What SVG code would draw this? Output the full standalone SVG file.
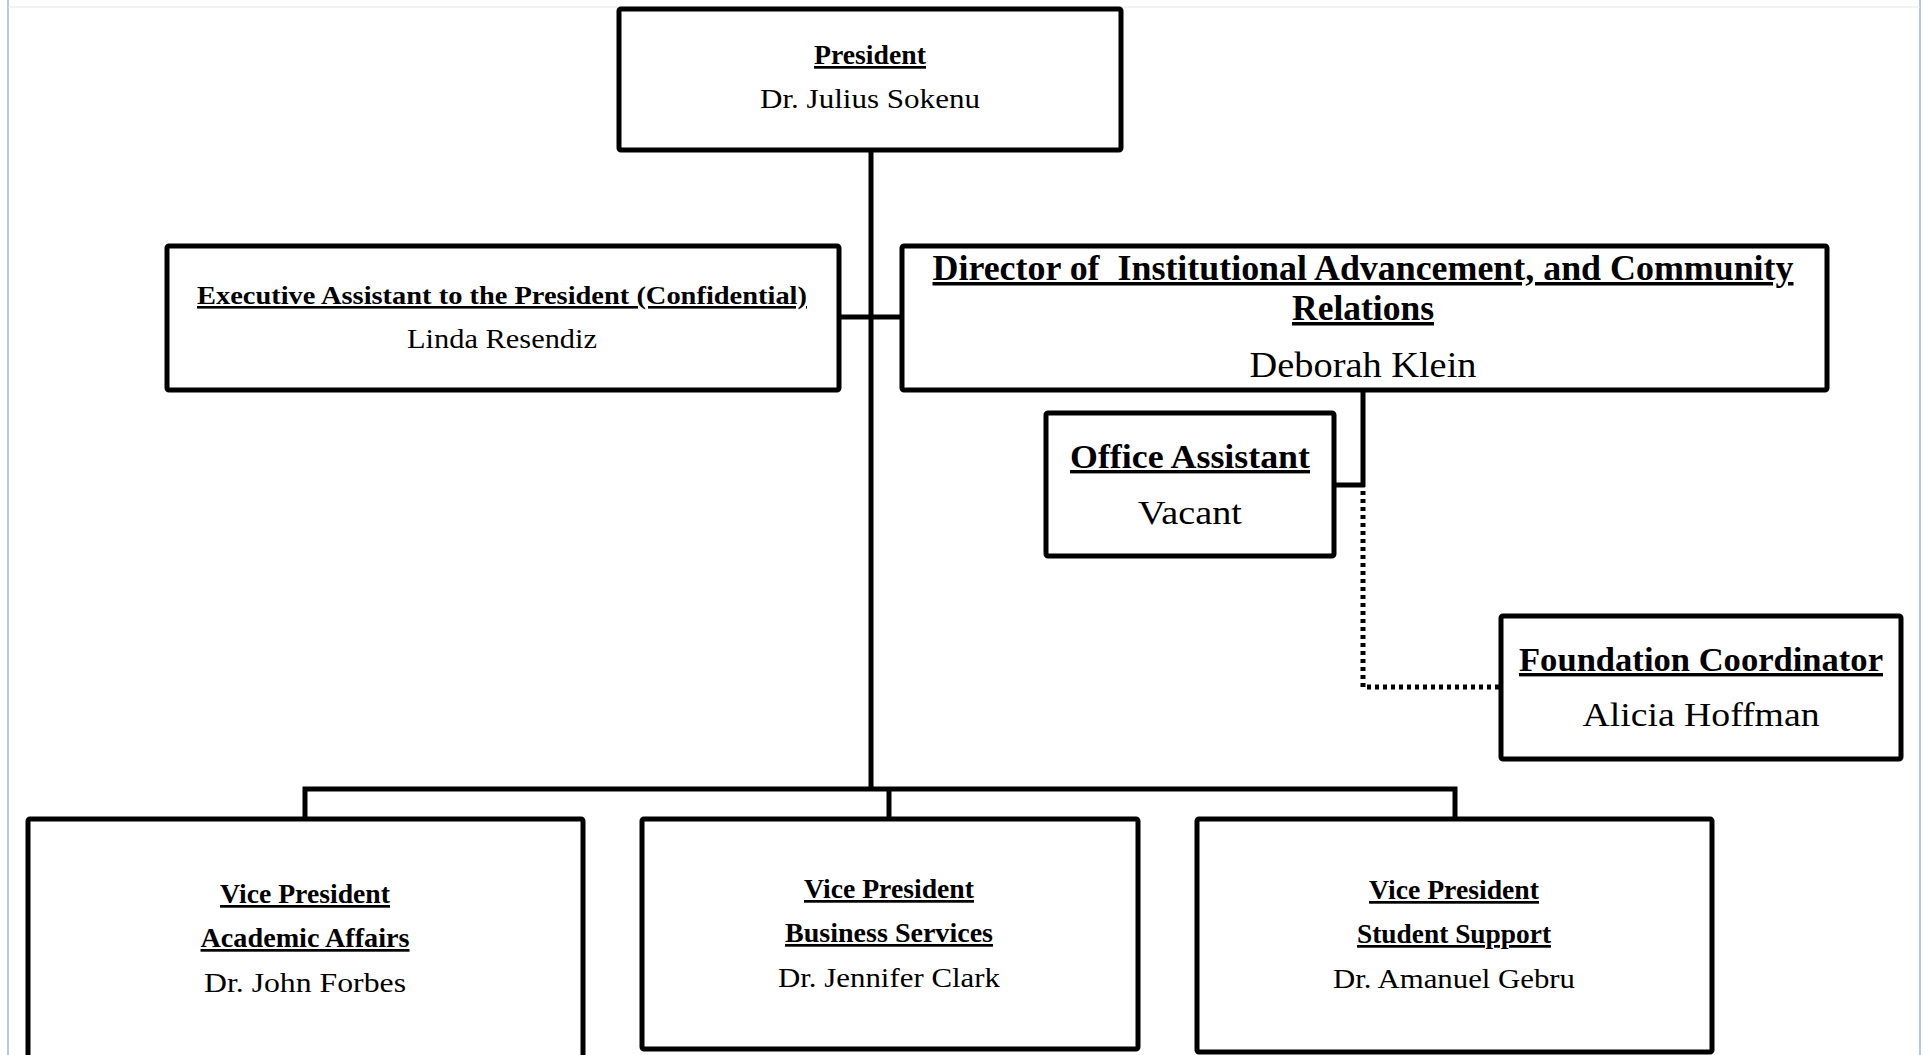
<svg xmlns="http://www.w3.org/2000/svg" width="1929" height="1055" viewBox="0 0 1929 1055">
<style>
.box{fill:#fff;stroke:#000;stroke-width:5;}
.ln{fill:none;stroke:#000;stroke-width:5;}
.dot{fill:none;stroke:#000;stroke-width:5;stroke-dasharray:4 4;}
.t{font-family:"Liberation Serif","Times New Roman",serif;font-weight:bold;text-decoration:underline;text-anchor:middle;fill:#000;}
.n{font-family:"Liberation Serif","Times New Roman",serif;text-anchor:middle;fill:#000;}
</style>
<rect x="0" y="0" width="1929" height="1055" fill="#fff"/>
<line x1="8" y1="0" x2="8" y2="1055" stroke="#b4c7e7" stroke-width="2"/>
<line x1="1920" y1="0" x2="1920" y2="1055" stroke="#b4c7e7" stroke-width="2"/>
<line x1="8" y1="7" x2="1920" y2="7" stroke="#e6e6e6" stroke-width="1"/>
<g id="connectors">
<line class="ln" x1="871" y1="150" x2="871" y2="789"/>
<line class="ln" x1="839" y1="317" x2="902" y2="317"/>
<polyline class="ln" points="305,819 305,789 1455,789 1455,819"/>
<line class="ln" x1="889" y1="789" x2="889" y2="819"/>
<line class="ln" x1="1363" y1="390" x2="1363" y2="487"/>
<line class="ln" x1="1334" y1="485" x2="1365" y2="485"/>
<polyline class="dot" points="1363,491 1363,687 1501,687"/>
</g>
<g id="president">
<rect class="box" x="619" y="9" width="502" height="141" rx="2"/>
<text class="t" x="870" y="64" font-size="27" textLength="112" lengthAdjust="spacingAndGlyphs">President</text>
<text class="n" x="870" y="108" font-size="27" textLength="220" lengthAdjust="spacingAndGlyphs">Dr. Julius Sokenu</text>
</g>
<g id="exec-assistant">
<rect class="box" x="167" y="246" width="672" height="144" rx="2"/>
<text class="t" x="502" y="304" font-size="26" textLength="610" lengthAdjust="spacingAndGlyphs">Executive Assistant to the President (Confidential)</text>
<text class="n" x="502" y="348" font-size="27" textLength="190" lengthAdjust="spacingAndGlyphs">Linda Resendiz</text>
</g>
<g id="director">
<rect class="box" x="902" y="246" width="925" height="144" rx="2"/>
<text class="t" x="1363" y="280" font-size="35" textLength="861" lengthAdjust="spacingAndGlyphs" xml:space="preserve" style="white-space:pre">Director of  Institutional Advancement, and Community</text>
<text class="t" x="1363" y="320" font-size="35" textLength="142" lengthAdjust="spacingAndGlyphs">Relations</text>
<text class="n" x="1363" y="377" font-size="35" textLength="227" lengthAdjust="spacingAndGlyphs">Deborah Klein</text>
</g>
<g id="office-assistant">
<rect class="box" x="1046" y="413" width="288" height="143" rx="2"/>
<text class="t" x="1190" y="468" font-size="34" textLength="240" lengthAdjust="spacingAndGlyphs">Office Assistant</text>
<text class="n" x="1190" y="524" font-size="34" textLength="104" lengthAdjust="spacingAndGlyphs">Vacant</text>
</g>
<g id="foundation-coordinator">
<rect class="box" x="1501" y="616" width="400" height="143" rx="2"/>
<text class="t" x="1701" y="671" font-size="34" textLength="364" lengthAdjust="spacingAndGlyphs">Foundation Coordinator</text>
<text class="n" x="1701" y="726" font-size="34" textLength="237" lengthAdjust="spacingAndGlyphs">Alicia Hoffman</text>
</g>
<g id="vp-academic">
<rect class="box" x="28" y="819" width="555" height="250" rx="2"/>
<text class="t" x="305" y="903" font-size="27" textLength="170" lengthAdjust="spacingAndGlyphs">Vice President</text>
<text class="t" x="305" y="947" font-size="27" textLength="209" lengthAdjust="spacingAndGlyphs">Academic Affairs</text>
<text class="n" x="305" y="992" font-size="27" textLength="202" lengthAdjust="spacingAndGlyphs">Dr. John Forbes</text>
</g>
<g id="vp-business">
<rect class="box" x="642" y="819" width="496" height="230" rx="2"/>
<text class="t" x="889" y="898" font-size="27" textLength="170" lengthAdjust="spacingAndGlyphs">Vice President</text>
<text class="t" x="889" y="942" font-size="27" textLength="208" lengthAdjust="spacingAndGlyphs">Business Services</text>
<text class="n" x="889" y="987" font-size="27" textLength="222" lengthAdjust="spacingAndGlyphs">Dr. Jennifer Clark</text>
</g>
<g id="vp-student">
<rect class="box" x="1197" y="819" width="515" height="233" rx="2"/>
<text class="t" x="1454" y="899" font-size="27" textLength="170" lengthAdjust="spacingAndGlyphs">Vice President</text>
<text class="t" x="1454" y="943" font-size="27" textLength="194" lengthAdjust="spacingAndGlyphs">Student Support</text>
<text class="n" x="1454" y="988" font-size="27" textLength="242" lengthAdjust="spacingAndGlyphs">Dr. Amanuel Gebru</text>
</g>
</svg>
